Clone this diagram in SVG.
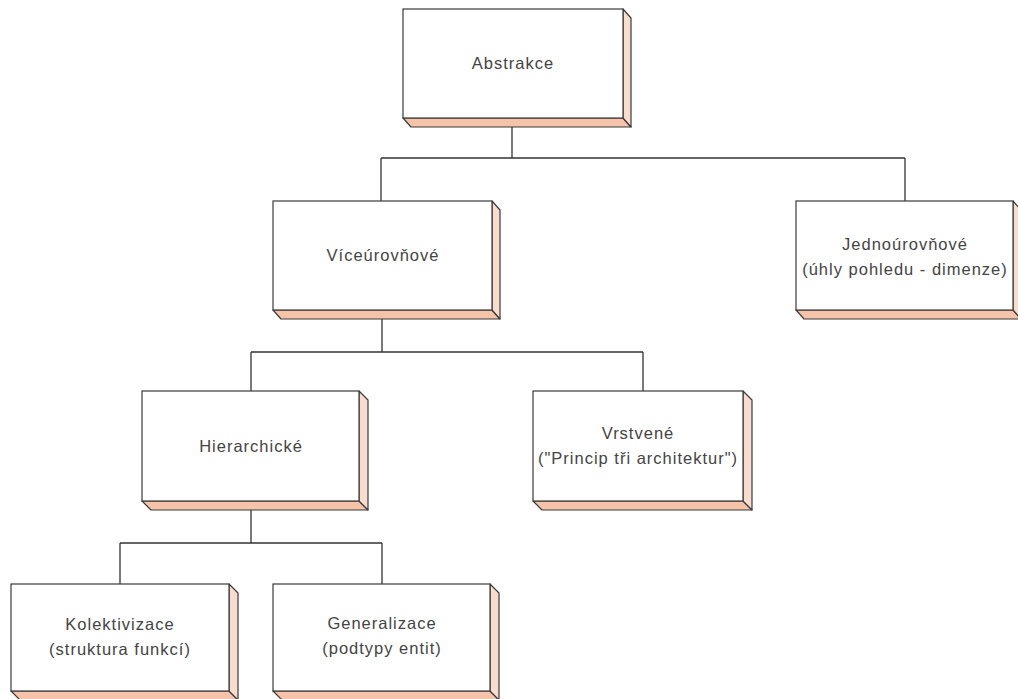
<svg xmlns="http://www.w3.org/2000/svg" width="1018" height="699" viewBox="0 0 1018 699">
  <style>
    .front { fill: #ffffff; stroke: #3a3a3a; stroke-width: 1.2; }
    .side { fill: #f8dccd; stroke: #3a3a3a; stroke-width: 1.2; stroke-linejoin: round; }
    .base { fill: #f5c3aa; stroke: #3a3a3a; stroke-width: 1.2; stroke-linejoin: round; }
    .wire { fill: none; stroke: #333333; stroke-width: 1.3; }
    text { font-family: "Liberation Sans", Arial, sans-serif; font-size: 16.5px; letter-spacing: 1px; fill: #444444; text-anchor: middle; }
  </style>

  <!-- tree connectors -->
  <g id="connectors">
    <path class="wire" d="M512 127 V158 M381 158 H905 M381 158 V201 M905 158 V201"/>
    <path class="wire" d="M382 319 V352 M251 352 H643 M251 352 V391 M643 352 V391"/>
    <path class="wire" d="M251 510 V543 M120 543 H382 M120 543 V584 M382 543 V584"/>
  </g>

  <g id="abstrakce">
    <polygon class="base" points="403,118 623,118 631,127 411,127"/>
    <polygon class="side" points="623,9 631,18 631,127 623,118"/>
    <rect class="front" x="403" y="9" width="220" height="109"/>
    <text x="513" y="69">Abstrakce</text>
  </g>

  <g id="viceurovnove">
    <polygon class="base" points="273,310 492,310 500,319 281,319"/>
    <polygon class="side" points="492,201 500,210 500,319 492,310"/>
    <rect class="front" x="273" y="201" width="219" height="109"/>
    <text x="383" y="261">Víceúrovňové</text>
  </g>

  <g id="jednourovnove">
    <polygon class="base" points="796,310 1013,310 1021,319 804,319"/>
    <polygon class="side" points="1013,201 1021,210 1021,319 1013,310"/>
    <rect class="front" x="796" y="201" width="217" height="109"/>
    <text x="905" y="250">Jednoúrovňové</text>
    <text x="905" y="275">(úhly pohledu - dimenze)</text>
  </g>

  <g id="hierarchicke">
    <polygon class="base" points="142,501 359,501 368,510 151,510"/>
    <polygon class="side" points="359,391 368,400 368,510 359,501"/>
    <rect class="front" x="142" y="391" width="217" height="110"/>
    <text x="251" y="452">Hierarchické</text>
  </g>

  <g id="vrstvene">
    <polygon class="base" points="533,501 743,501 752,510 542,510"/>
    <polygon class="side" points="743,391 752,400 752,510 743,501"/>
    <rect class="front" x="533" y="391" width="210" height="110"/>
    <text x="638" y="439">Vrstvené</text>
    <text x="638" y="464">("Princip tři architektur")</text>
  </g>

  <g id="kolektivizace">
    <polygon class="base" points="11,691 229,691 238,700 20,700"/>
    <polygon class="side" points="229,584 238,593 238,700 229,691"/>
    <rect class="front" x="11" y="584" width="218" height="107"/>
    <text x="120" y="630">Kolektivizace</text>
    <text x="120" y="655">(struktura funkcí)</text>
  </g>

  <g id="generalizace">
    <polygon class="base" points="273,691 490,691 499,700 282,700"/>
    <polygon class="side" points="490,584 499,593 499,700 490,691"/>
    <rect class="front" x="273" y="584" width="217" height="107"/>
    <text x="382" y="629">Generalizace</text>
    <text x="382" y="654">(podtypy entit)</text>
  </g>
</svg>
